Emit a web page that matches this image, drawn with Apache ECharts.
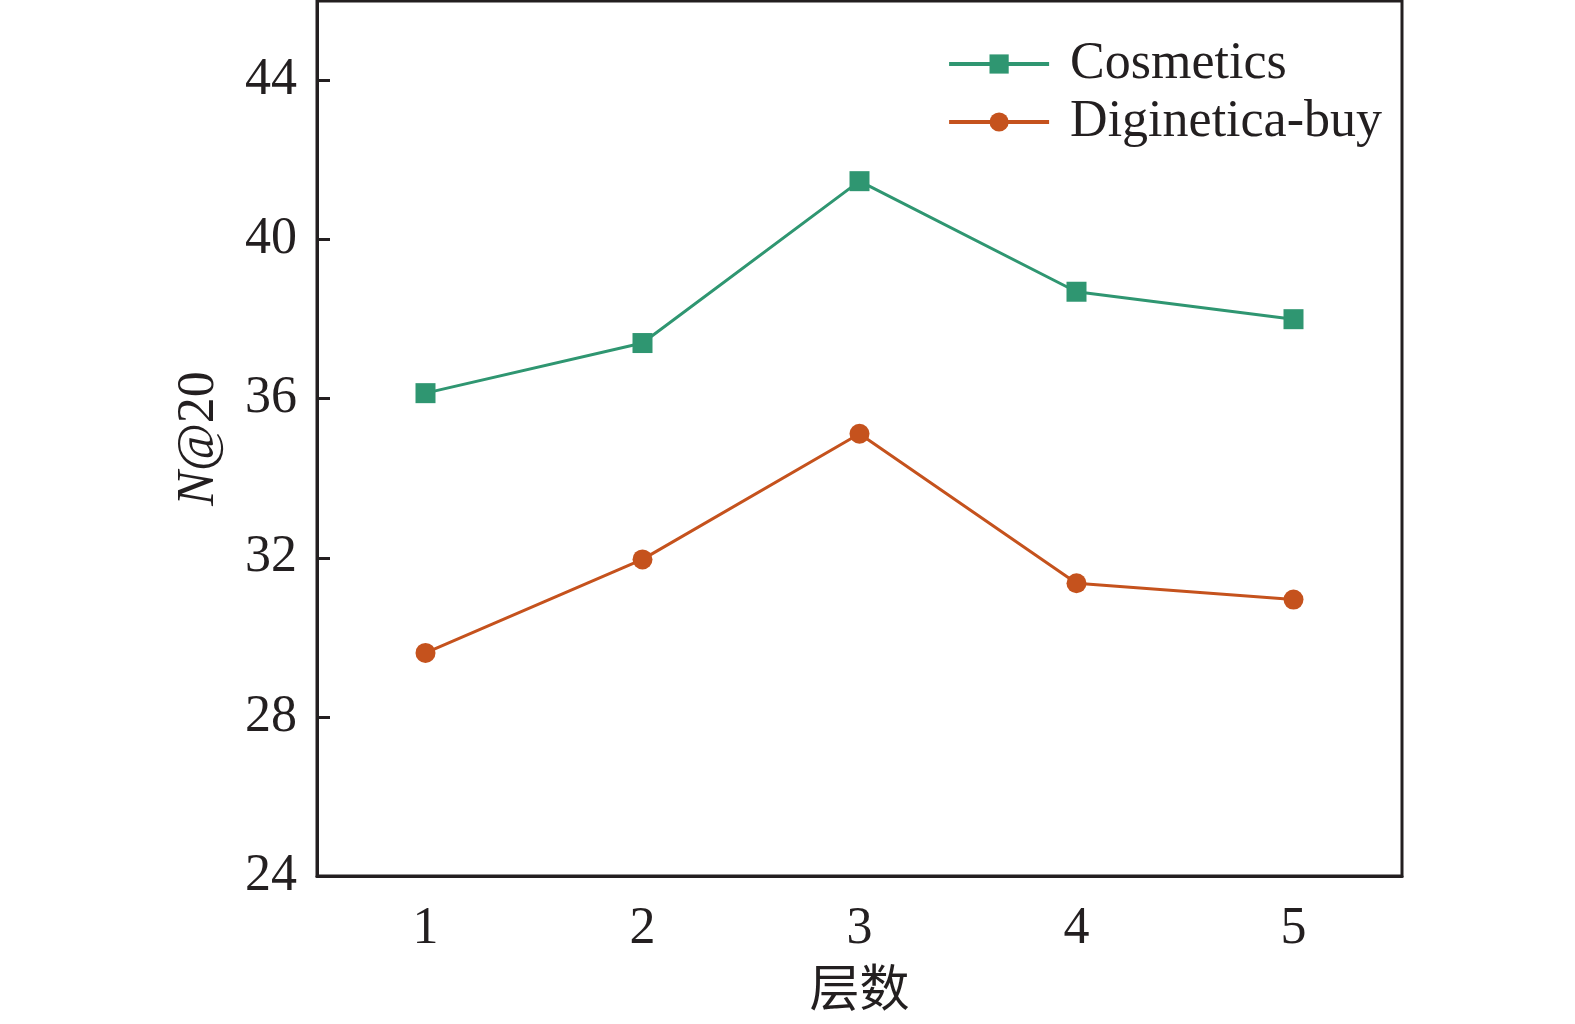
<!DOCTYPE html>
<html>
<head>
<meta charset="utf-8">
<script src="https://cdn.jsdelivr.net/npm/echarts@6/dist/echarts.min.js"></script>
<style>html,body{margin:0;padding:0;background:#fff;}#c{width:1575px;height:1024px;}</style>
</head>
<body>
<div id="c"></div>
<script>
const categories = ['1', '2', '3', '4', '5'];
const cosmetics = [36.14, 37.40, 41.47, 38.69, 38.0];
const digineticaBuy = [29.61, 31.96, 35.12, 31.36, 30.95];
const seriesNames = ['Cosmetics', 'Diginetica-buy'];
const xName = '层数';

const FONT = '"Liberation Serif", "Times New Roman", "Noto Sans CJK SC", serif';
const AX = '#231f20';
const chart = echarts.init(document.getElementById('c'));
chart.setOption({
  animation: false,
  backgroundColor: '#fff',
  grid: { left: 317, right: 173, top: 1, bottom: 148, outerBoundsMode: 'none', containLabel: false,
    show: true, borderColor: AX, borderWidth: 3, backgroundColor: 'transparent' },
  legend: {
    orient: 'vertical', right: 188, top: 33,
    itemWidth: 100, itemHeight: 24, itemGap: 6,
    lineStyle: { width: 4 },
    textStyle: { fontFamily: FONT, fontSize: 52, color: AX, padding: [0, 0, 0, 16] },
    data: seriesNames
  },
  xAxis: {
    type: 'category', data: categories, boundaryGap: true,
    name: xName, nameLocation: 'middle', nameGap: 92,
    nameTextStyle: { fontFamily: FONT, fontSize: 50, color: AX },
    axisLine: { lineStyle: { color: AX, width: 3 } },
    axisTick: { inside: true, length: 13, alignWithLabel: true, lineStyle: { color: AX, width: 3 } },
    axisLabel: { fontFamily: FONT, fontSize: 52, color: AX, margin: 27 },
    splitLine: { show: false }
  },
  yAxis: {
    type: 'value', min: 24, max: 46, interval: 4,
    name: '{i|N}{n|@20}', nameLocation: 'middle', nameGap: 92, nameRotate: 90,
    nameTextStyle: { fontFamily: FONT, fontSize: 52, color: AX,
      rich: { i: { fontFamily: FONT, fontSize: 52, fontStyle: 'italic', color: AX }, n: { fontFamily: FONT, fontSize: 52, color: AX } } },
    axisLine: { show: true, lineStyle: { color: AX, width: 3 } },
    axisTick: { show: true, inside: true, length: 13, lineStyle: { color: AX, width: 3 } },
    axisLabel: { fontFamily: FONT, fontSize: 52, color: AX, margin: 20, showMaxLabel: false,
      formatter: v => (v === 46 ? '' : String(v)) },
    splitLine: { show: false }
  },
  series: [
    { name: seriesNames[0], type: 'line', data: cosmetics, symbol: 'rect', symbolSize: 20,
      color: '#2f9671', lineStyle: { width: 3, color: '#2f9671' }, itemStyle: { color: '#2f9671' } },
    { name: seriesNames[1], type: 'line', data: digineticaBuy, symbol: 'circle', symbolSize: 20,
      color: '#c5521d', lineStyle: { width: 3, color: '#c5521d' }, itemStyle: { color: '#c5521d' } }
  ]
});
</script>
</body>
</html>
